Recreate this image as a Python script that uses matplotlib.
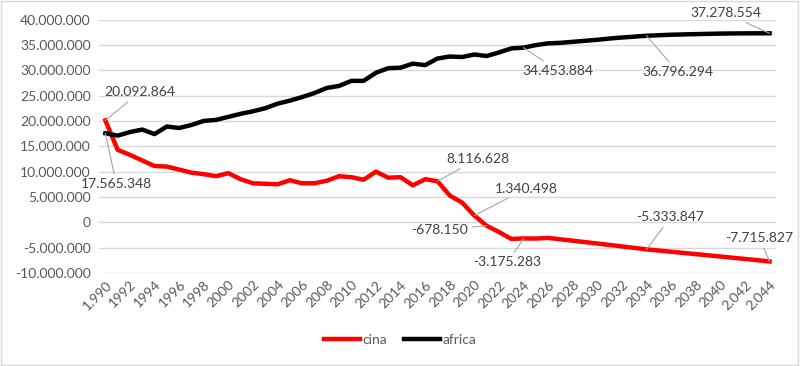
import matplotlib
matplotlib.use('Agg')
import matplotlib.pyplot as plt
from matplotlib.patches import Rectangle
from matplotlib.ticker import FuncFormatter, MultipleLocator


YEARS = list(range(1990, 2045))

CINA = [
    20.092864, 14.3, 13.3, 12.2, 11.1, 11.0, 10.4, 9.8, 9.5, 9.1,
    9.7, 8.5, 7.7, 7.6, 7.5, 8.3, 7.7, 7.7, 8.2, 9.1,
    8.9, 8.4, 10.0, 8.8, 8.9, 7.3, 8.5, 8.116628, 5.3, 3.9,
    1.340498, -0.678150, -1.9, -3.27, -3.175283, -3.2, -3.07, -3.35, -3.62, -3.9,
    -4.18, -4.46, -4.75, -5.04, -5.333847, -5.56, -5.8, -6.03, -6.27, -6.5,
    -6.74, -6.98, -7.22, -7.46, -7.715827,
]
AFRICA = [
    17.565348, 17.1, 17.8, 18.3, 17.4, 18.9, 18.6, 19.2, 20.0, 20.2,
    20.8, 21.4, 21.9, 22.5, 23.4, 24.0, 24.7, 25.5, 26.5, 26.9,
    27.9, 27.9, 29.5, 30.4, 30.5, 31.3, 31.0, 32.3, 32.7, 32.6,
    33.1, 32.8, 33.5, 34.3, 34.453884, 34.95, 35.3, 35.4, 35.6, 35.8,
    36.0, 36.25, 36.45, 36.62, 36.796294, 36.9, 37.0, 37.06, 37.12, 37.17,
    37.22, 37.25, 37.27, 37.28, 37.278554,
]
CINA = [v * 1e6 for v in CINA]
AFRICA = [v * 1e6 for v in AFRICA]

TICK_YEARS = list(range(1990, 2045, 2))
TICK_LABELS = [f'{y:,}'.replace(',', '.') if y in (1990, 2042, 2044) else str(y)
               for y in TICK_YEARS]

# (series, year, offset in pixels) for the data labels
LABELS = [
    ('cina', 1990, (34, 28)),
    ('africa', 1990, (11, -51)),
    ('africa', 2024, (34, -23)),
    ('africa', 2034, (31, -36)),
    ('africa', 2044, (-44, 20)),
    ('cina', 2017, (40, 22)),
    ('cina', 2020, (52, 27)),
    ('cina', 2021, (-47, -4)),
    ('cina', 2024, (-16, -24)),
    ('cina', 2034, (24, 32)),
    ('cina', 2044, (-10, 23)),
]

FONT = 'Lato'
TXT_COLOR = '#595959'


def fmt_num(v):
    s = f'{abs(int(round(v))):,}'.replace(',', '.')
    return ('-' if v < 0 else '') + s


def main():
    plt.rcParams['font.family'] = [FONT, 'DejaVu Sans']
    fig = plt.figure(figsize=(8, 3.66), dpi=100)
    ax = fig.add_axes([0.124, 0.254, 0.8456, 0.6927])

    ax.plot(YEARS, CINA, color='#ff0000', lw=3.2, label='cina',
            solid_joinstyle='round', zorder=3)
    ax.plot(YEARS, AFRICA, color='#000000', lw=3.2, label='africa',
            solid_joinstyle='round', zorder=3)

    ax.set_xlim(1989.5, 2044.5)
    ax.set_ylim(-10e6, 40e6)
    ax.yaxis.set_major_locator(MultipleLocator(5e6))
    ax.yaxis.set_major_formatter(FuncFormatter(lambda v, p: fmt_num(v)))
    ax.set_xticks(TICK_YEARS)
    ax.set_xticklabels(TICK_LABELS, rotation=45, ha='right',
                       rotation_mode='anchor')
    ax.tick_params(length=0, labelsize=10, colors=TXT_COLOR, pad=6)
    ax.tick_params(axis='x', pad=4)
    ax.grid(axis='y', color='#d9d9d9', lw=1)
    ax.set_axisbelow(True)
    for s in ax.spines.values():
        s.set_visible(False)

    series = {'cina': CINA, 'africa': AFRICA}
    for name, year, off in LABELS:
        v = series[name][YEARS.index(year)]
        ax.annotate(fmt_num(v), xy=(year, v), xytext=off,
                    textcoords='offset pixels', ha='center', va='center',
                    fontsize=10, color='#404040',
                    arrowprops=dict(arrowstyle='-', color='#a6a6a6', lw=0.8,
                                    shrinkA=1, shrinkB=0),
                    zorder=4)

    fig.legend(loc='lower center', bbox_to_anchor=(0.5, 0.02), ncol=2,
               frameon=False, handlelength=2.6, columnspacing=1.2,
               handletextpad=0.2, prop={'size': 10},
               labelcolor=TXT_COLOR)

    fig.patches.append(Rectangle((0.001, 0.002), 0.997, 0.995,
                                 transform=fig.transFigure, fill=False,
                                 edgecolor='#d9d9d9', lw=1))
    fig.savefig('out.png', dpi=100)
    plt.close(fig)


if __name__ == '__main__':
    main()
